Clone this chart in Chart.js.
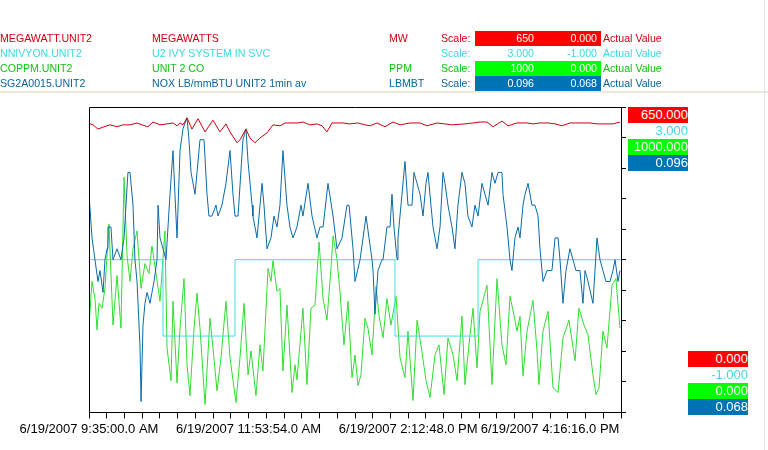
<!DOCTYPE html>
<html>
<head>
<meta charset="utf-8">
<script src="https://cdn.jsdelivr.net/npm/chart.js@4"></script>
<style>
  html, body { margin: 0; padding: 0; background: #fff; }
  #wrap { position: relative; width: 768px; height: 450px; overflow: hidden; background: #fff;
          font-family: "Liberation Sans", Arial, sans-serif; }
  #c { position: absolute; left: 0; top: 0; }
  .hrow { position: absolute; left: 0; width: 768px; height: 15px; line-height: 15px; font-size: 10.6px; white-space: nowrap; }
  .hrow span { position: absolute; top: 0; height: 15px; }
  .half { width: 59px; text-align: right; padding-right: 4px; }
  .rlab { position: absolute; width: 60px; height: 16px; line-height: 16px; font-size: 13px; text-align: right; white-space: nowrap; }
  #sep { position: absolute; left: 0; top: 91px; width: 768px; height: 2px; background: #ece9d8; }
  #vline { position: absolute; left: 764px; top: 0; width: 1px; height: 450px; background: #e4e4e4; }
</style>
</head>
<body>
<div id="wrap">
  <canvas id="c" width="768" height="450"></canvas>
  <div id="sep"></div>
  <div id="vline"></div>
</div>
<script>
// ---------------- DATA ----------------
const tagNames     = ['MEGAWATT.UNIT2', 'NNIVYON.UNIT2', 'COPPM.UNIT2', 'SG2A0015.UNIT2'];
const descriptions = ['MEGAWATTS', 'U2 IVY SYSTEM IN SVC', 'UNIT 2 CO', 'NOX LB/mmBTU UNIT2 1min av'];
const units        = ['MW', '', 'PPM', 'LBMBT'];
const scaleHighText = ['650', '3.000', '1000', '0.096'];
const scaleLowText  = ['0.000', '-1.000', '0.000', '0.068'];
const scaleMax = [650, 3, 1000, 0.096];
const scaleMin = [0, -1, 0, 0.068];

// x axis: minutes after 6/19/2007 9:35:00 AM; 30 tick intervals of 15:26
const xTickCount = 31;
const xTickStepMinutes = 926 / 60;
const xTickLabels = ['6/19/2007 9:35:00.0 AM', '6/19/2007 11:53:54.0 AM', '6/19/2007 2:12:48.0 PM', '6/19/2007 4:16:16.0 PM'];
const xLabelTickIndex = [0, 9, 18, 26];

// MEGAWATTS
const mwTimes = [0,3.5,7.8,13.1,18.3,24.4,29.6,35.7,41.8,46.1,51.3,55.7,61.8,67.9,73.1,76.6,79.2,81.8,85.3,89.6,
  94.9,101.0,107.9,114.0,119.2,122.7,128.8,131.4,136.6,140.1,144.5,148.8,154.9,160.1,166.2,170.6,174.9,181.0,186.2,192.3,
  198.4,202.8,207.1,211.5,215.8,221.1,227.1,234.1,240.2,244.5,250.6,257.6,264.6,270.7,279.4,288.1,294.2,302.9,309.8,315.9,
  327.2,334.2,340.3,346.4,351.6,359.4,364.7,372.5,381.2,386.4,392.5,399.5,405.6,411.6,418.6,427.3,436.0,443.0,450.8,456.0,462.1];
const mwValues = [615,612,603,608,612,608,612,612,616,612,608,618,612,614,616,610,616,612,627,603,
  625,597,622,597,614,597,574,580,603,584,574,584,595,612,610,616,616,616,618,612,
  614,610,597,616,616,616,614,616,612,610,616,608,618,612,616,616,610,616,614,612,
  614,616,618,618,608,620,610,616,616,614,616,616,614,610,616,616,616,614,614,614,618];

// U2 IVY SYSTEM IN SVC (state changes)
const svcTimes  = [0, 64.4, 127.1, 266.3, 338.6, 463];
const svcValues = [1, 0, 1, 0, 1, 1];

// UNIT 2 CO (ppm)
const coTimes = [0,2.6,5.2,7.0,8.7,11.3,13.9,17.4,20.9,24.4,
  27.8,30.5,33.1,35.7,38.3,41.8,45.3,48.7,52.2,54.8,
  58.3,61.8,66.1,67.9,71.4,73.1,76.6,79.2,82.7,85.3,
  87.9,91.4,94.0,96.6,101.0,105.3,107.9,111.4,114.9,119.2,
  122.7,127.9,131.4,134.9,138.4,141.0,145.3,148.8,151.4,155.8,
  158.4,160.1,163.6,166.2,168.8,172.3,176.7,179.3,181.0,186.2,
  189.7,193.2,196.7,200.2,203.7,207.1,210.6,212.4,215.8,218.4,
  221.9,225.4,228.9,231.5,234.1,236.7,240.2,242.8,246.3,249.8,
  252.4,255.9,259.3,262.8,267.2,270.7,275.0,277.6,282.0,285.5,
  288.9,293.3,296.8,301.1,304.6,309.0,312.4,316.8,320.3,324.6,
  327.2,331.6,334.2,337.7,340.3,346.4,350.7,355.1,359.4,362.9,
  366.4,369.9,372.5,375.1,377.7,381.2,386.4,389.9,391.6,395.1,
  399.5,403.8,408.2,412.5,417.7,423.0,426.4,430.8,434.3,438.6,
  441.2,443.9,447.3,450.8,455.2,458.6,462.1];
const coValues = [282,429,373,270,357,341,406,617,286,448,
  276,770,513,429,536,594,406,487,455,545,
  455,364,594,211,104,364,97,276,438,156,
  55,276,390,276,26,308,211,71,179,364,
  179,32,179,357,123,201,55,221,136,471,
  429,497,396,406,136,351,65,156,107,341,
  91,341,351,558,373,302,471,578,503,396,
  221,364,114,188,88,123,308,276,188,412,
  318,244,373,286,380,179,114,266,39,302,
  221,104,49,188,221,58,244,188,104,315,
  91,253,341,146,331,416,91,438,221,156,
  380,318,266,315,120,266,367,201,91,266,
  331,81,65,244,302,169,341,286,253,123,
  58,81,266,211,416,438,276];

// NOX LB/mmBTU
const noxTimes = [0,2.6,5.2,7.8,9.6,12.2,13.9,15.7,16.5,19.1,
  20.9,24.4,27.8,30.5,33.9,35.7,38.3,40.0,41.8,44.4,
  45.3,47.0,48.7,50.5,53.1,54.8,56.6,59.2,60.1,61.8,
  64.4,67.0,70.5,73.1,74.8,76.6,79.2,81.8,85.3,87.0,
  88.8,92.3,94.0,96.6,100.1,102.7,104.4,107.0,110.5,112.3,
  115.7,119.2,122.7,125.3,127.1,129.7,134.0,136.6,138.4,141.9,
  142.7,146.2,150.6,152.3,154.9,158.4,161.0,163.6,166.2,168.8,
  172.3,174.9,177.5,181.0,184.5,186.2,190.6,194.1,198.4,201.0,
  203.7,208.0,212.4,215.8,220.2,224.5,226.3,229.8,231.5,235.9,
  238.5,241.1,243.7,246.3,247.2,248.9,251.5,255.0,255.9,259.3,
  262.0,263.7,265.4,268.1,268.9,272.4,275.0,277.6,281.1,282.8,
  285.5,288.1,290.7,293.3,295.0,297.6,299.4,302.9,305.5,308.1,
  309.8,312.4,315.9,318.5,321.1,324.6,327.2,329.8,333.3,335.9,
  338.6,342.0,344.6,347.3,350.7,353.3,356.0,359.4,360.3,363.8,
  366.4,368.1,370.7,373.4,375.1,377.7,379.5,382.1,385.5,388.1,
  390.8,392.5,395.1,398.6,402.9,405.6,408.2,409.9,412.5,415.1,
  418.6,421.2,423.8,427.3,429.9,431.7,434.3,438.6,442.1,444.7,
  447.3,449.9,453.4,456.0,457.8,460.4,462.1];
const noxValues = [0.088,0.084,0.082,0.080,0.081,0.079,0.082,0.083,0.085,0.085,
  0.082,0.083,0.082,0.084,0.090,0.090,0.087,0.082,0.080,0.074,
  0.069,0.076,0.078,0.079,0.078,0.079,0.080,0.082,0.087,0.084,
  0.083,0.082,0.088,0.092,0.088,0.084,0.092,0.094,0.095,0.093,
  0.090,0.088,0.090,0.093,0.093,0.088,0.086,0.086,0.087,0.086,
  0.087,0.089,0.092,0.088,0.086,0.086,0.093,0.094,0.091,0.087,
  0.086,0.084,0.089,0.087,0.083,0.084,0.086,0.085,0.087,0.092,
  0.087,0.085,0.084,0.085,0.087,0.086,0.089,0.086,0.084,0.085,
  0.085,0.089,0.086,0.083,0.084,0.087,0.087,0.083,0.080,0.082,
  0.084,0.086,0.084,0.082,0.081,0.077,0.081,0.082,0.082,0.085,
  0.085,0.088,0.085,0.082,0.084,0.088,0.091,0.087,0.087,0.090,
  0.089,0.088,0.086,0.089,0.090,0.087,0.085,0.083,0.085,0.090,
  0.089,0.087,0.085,0.083,0.087,0.090,0.089,0.086,0.085,0.087,
  0.086,0.089,0.088,0.087,0.090,0.089,0.090,0.090,0.088,0.085,
  0.082,0.081,0.084,0.085,0.084,0.087,0.088,0.089,0.087,0.087,
  0.086,0.083,0.080,0.081,0.081,0.084,0.084,0.082,0.078,0.081,
  0.083,0.082,0.081,0.081,0.078,0.081,0.080,0.078,0.084,0.082,
  0.081,0.080,0.080,0.081,0.082,0.080,0.081];

// ---------------- STYLES ----------------
const textColors = ['#d00010', '#3cd8e4', '#10c010', '#0a6498'];
const lineColors = ['#cc0010', '#40dde6', '#30dd30', '#0b6aa6'];
const boxColors  = ['#ff0000', null, '#00ff00', '#0073b5'];
const FONT = '"Liberation Sans", Arial, sans-serif';

// ---------------- HEADER (HTML text) ----------------
const wrap = document.getElementById('wrap');
tagNames.forEach((tag, i) => {
  const row = document.createElement('div');
  row.className = 'hrow';
  row.style.top = (31 + 15 * i) + 'px';
  row.style.color = textColors[i];
  const box = boxColors[i];
  const inner = box ? '#fff' : textColors[i];
  row.innerHTML =
    '<span style="left:0">' + tag + '</span>' +
    '<span style="left:152px">' + descriptions[i] + '</span>' +
    '<span style="left:389px">' + units[i] + '</span>' +
    '<span style="left:441px">Scale:</span>' +
    '<span style="left:475px;width:126px;background:' + (box || 'transparent') + '"></span>' +
    '<span class="half" style="left:475px;color:' + inner + '">' + scaleHighText[i] + '</span>' +
    '<span class="half" style="left:538px;color:' + inner + '">' + scaleLowText[i] + '</span>' +
    '<span style="left:603px">Actual Value</span>';
  wrap.appendChild(row);
});

// right-hand scale labels
scaleMax.forEach((v, i) => {
  const d = document.createElement('div');
  d.className = 'rlab';
  d.style.left = '628px';
  d.style.top = (107 + 16 * i) + 'px';
  d.style.background = boxColors[i] || 'transparent';
  d.style.color = boxColors[i] ? '#fff' : textColors[i];
  d.textContent = v.toFixed(3);
  wrap.appendChild(d);
});
scaleMin.forEach((v, i) => {
  const d = document.createElement('div');
  d.className = 'rlab';
  d.style.left = '688px';
  d.style.top = (351 + 16 * i) + 'px';
  d.style.background = boxColors[i] || 'transparent';
  d.style.color = boxColors[i] ? '#fff' : textColors[i];
  d.textContent = v.toFixed(3);
  wrap.appendChild(d);
});

// ---------------- CHART ----------------
const pts = (t, v) => t.map((x, i) => ({ x: x, y: v[i] }));
const xMax = (xTickCount - 1) * xTickStepMinutes;

const framePlugin = {
  id: 'frame',
  afterDatasetsDraw(chart) {
    const { ctx, chartArea: a } = chart;
    ctx.save();
    ctx.strokeStyle = '#000';
    ctx.lineWidth = 1;
    ctx.beginPath();
    ctx.moveTo(Math.round(a.left) + 0.5, Math.round(a.bottom) + 0.5);
    ctx.lineTo(Math.round(a.left) + 0.5, Math.round(a.top) + 0.5);
    ctx.lineTo(Math.round(a.right) + 0.5, Math.round(a.top) + 0.5);
    ctx.stroke();
    ctx.restore();
  }
};

const lineDs = (label, data, color, axis, extra) => Object.assign({
  label, data, borderColor: color, backgroundColor: color, borderWidth: 1,
  pointRadius: 0, pointHoverRadius: 0, tension: 0, fill: false, yAxisID: axis
}, extra || {});

new Chart(document.getElementById('c'), {
  type: 'line',
  data: {
    datasets: [
      lineDs(descriptions[0], pts(mwTimes, mwValues), lineColors[0], 'yMW'),
      lineDs(descriptions[3], pts(noxTimes, noxValues), lineColors[3], 'yNOX'),
      lineDs(descriptions[1], pts(svcTimes, svcValues), lineColors[1], 'ySVC', { stepped: 'before' }),
      lineDs(descriptions[2], pts(coTimes, coValues), lineColors[2], 'yCO')
    ]
  },
  options: {
    responsive: false,
    animation: false,
    events: [],
    layout: { padding: { left: 89, top: 107, right: 142, bottom: 10 } },
    plugins: { legend: { display: false }, tooltip: { enabled: false }, title: { display: false } },
    scales: {
      x: {
        type: 'linear', min: 0, max: xMax,
        afterBuildTicks: (scale) => {
          scale.ticks = Array.from({ length: xTickCount }, (_, i) => ({ value: i * xTickStepMinutes }));
        },
        ticks: {
          autoSkip: false, maxRotation: 0, minRotation: 0, padding: 3, color: '#000',
          font: { family: FONT, size: 13 },
          callback: (v, i) => { const k = xLabelTickIndex.indexOf(i); return k >= 0 ? xTickLabels[k] : ''; }
        },
        grid: { drawOnChartArea: false, drawTicks: true, tickLength: 6, color: '#000' },
        border: { display: true, color: '#000', width: 1 }
      },
      yCO: {
        position: 'right', min: scaleMin[2], max: scaleMax[2],
        ticks: { display: false, stepSize: 100 },
        grid: { drawOnChartArea: false, drawTicks: true, tickLength: 5, color: '#000' },
        border: { display: true, color: '#000', width: 1 }
      },
      yMW:  { display: false, min: scaleMin[0], max: scaleMax[0] },
      ySVC: { display: false, min: scaleMin[1], max: scaleMax[1] },
      yNOX: { display: false, min: scaleMin[3], max: scaleMax[3] }
    }
  },
  plugins: [framePlugin]
});
</script>
</body>
</html>
